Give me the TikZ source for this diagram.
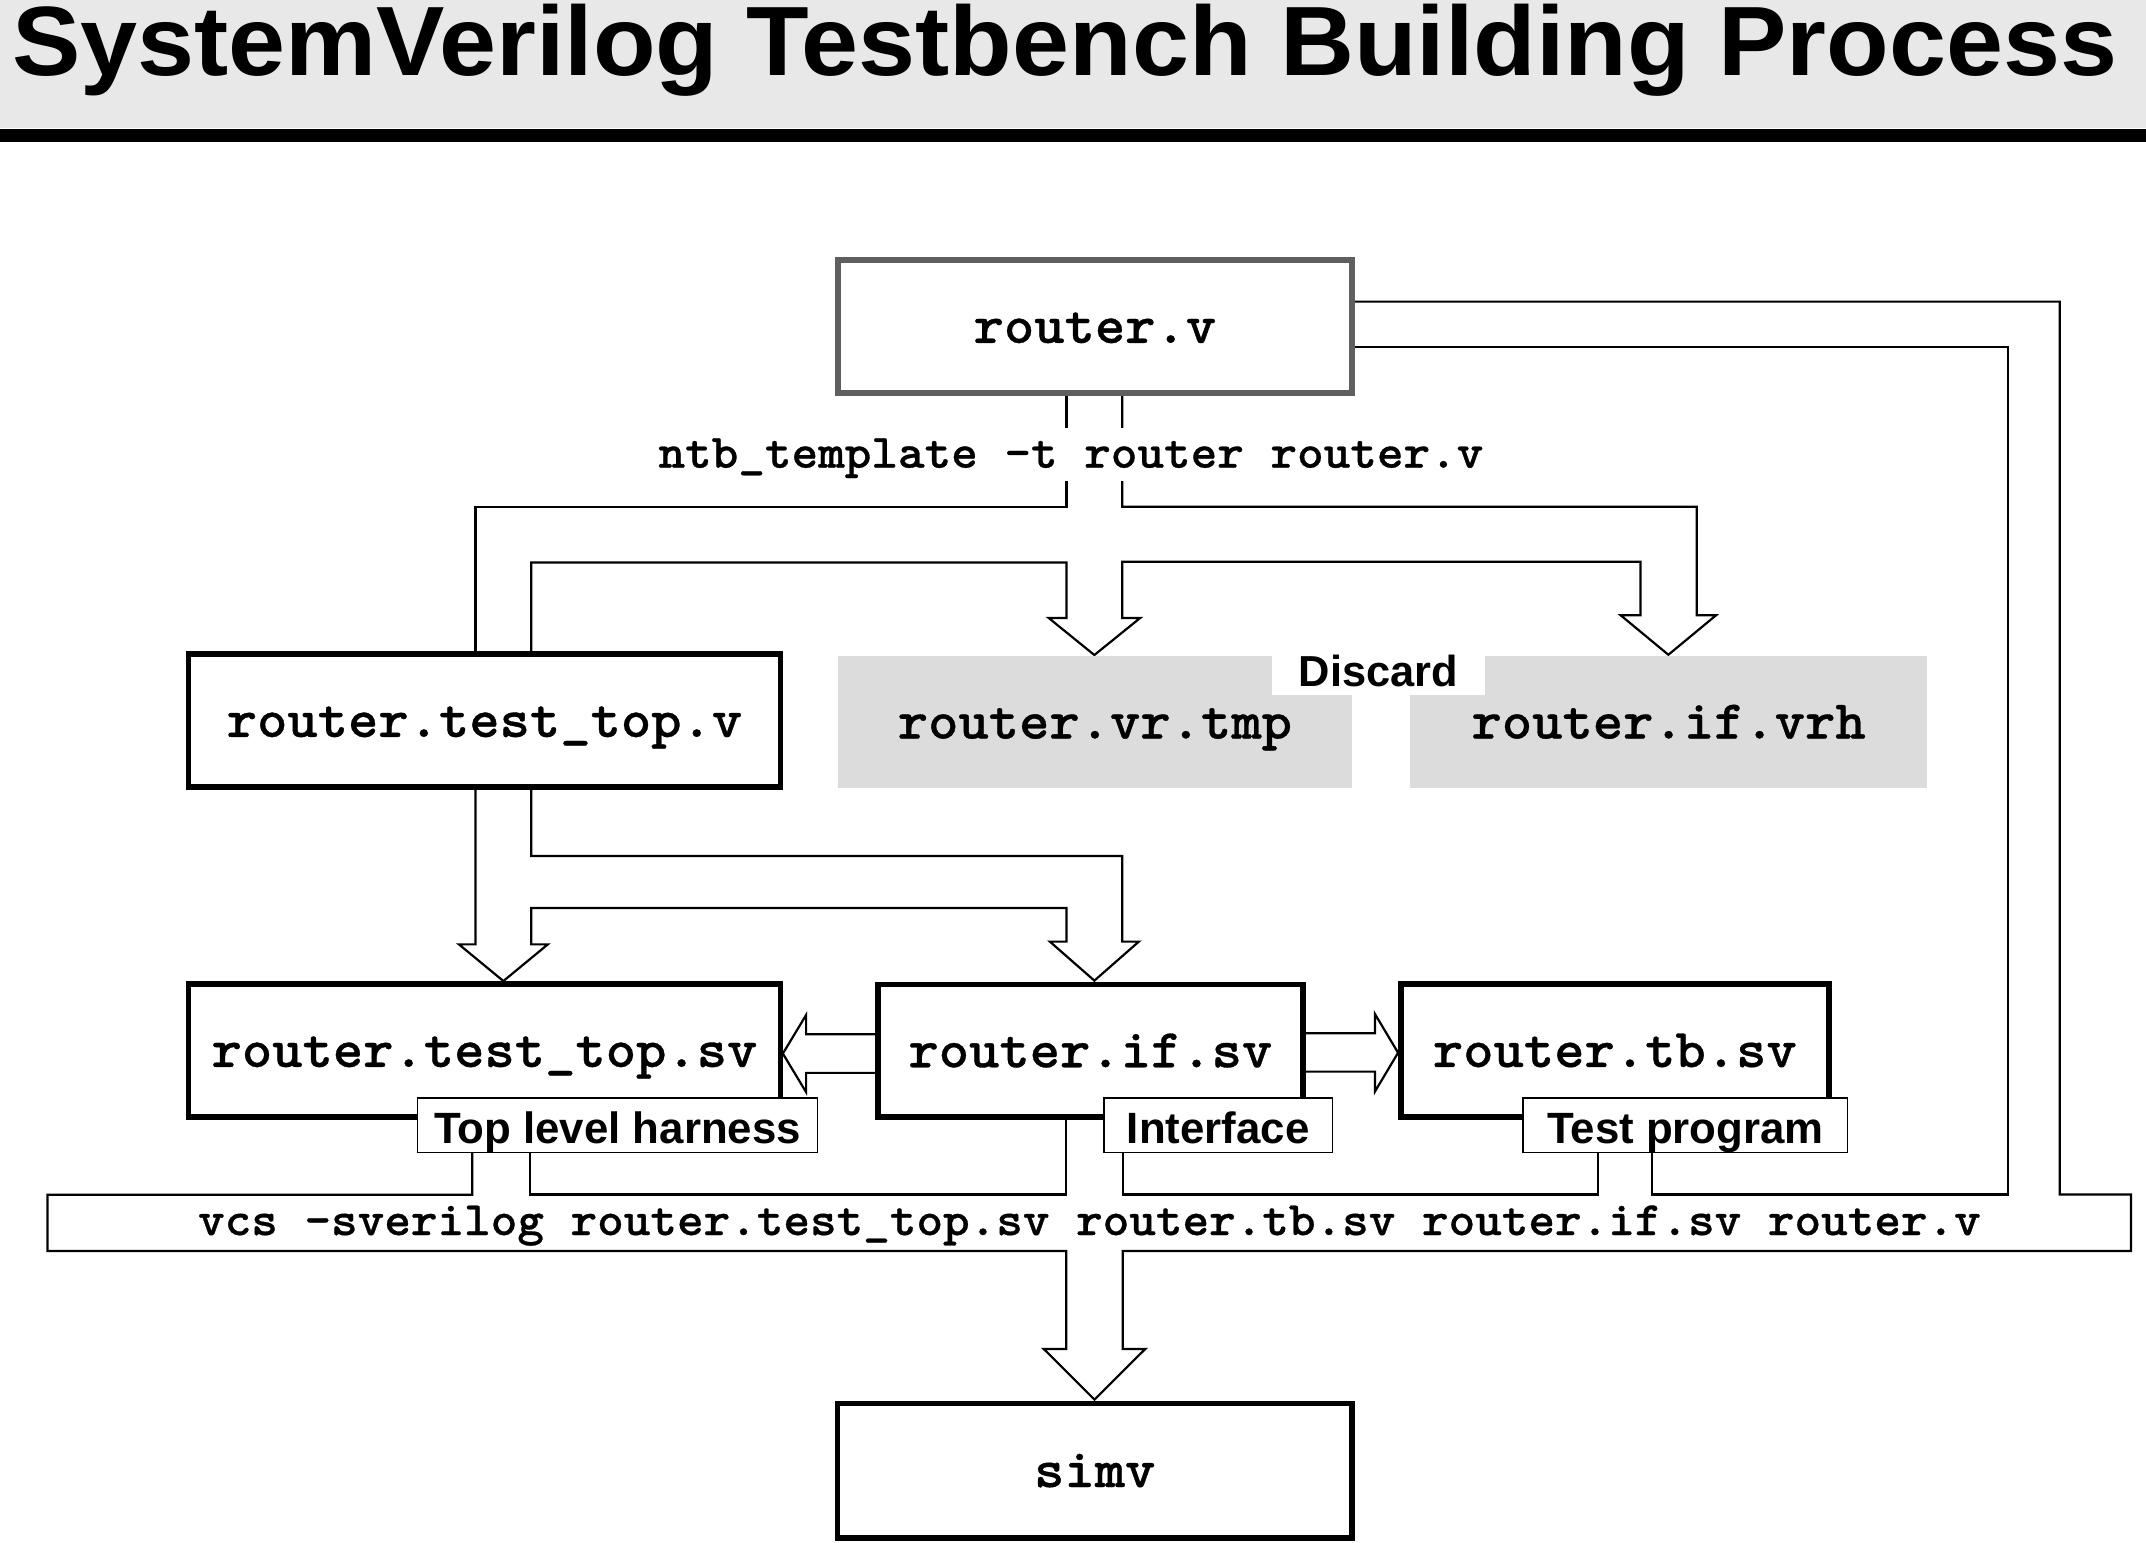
\documentclass[tikz,border=0pt]{standalone}
\usepackage{fontspec}
\setsansfont{Liberation Sans}
\newfontfamily\cour{lmmonolt10-bold.otf}[FakeStretch=1.055,FakeBold=0.6]
\newfontfamily\titlefont{Liberation Sans}[FakeStretch=1.04]
\definecolor{titlegray}{HTML}{E8E8E8}
\definecolor{srcgray}{HTML}{5F5F5F}
\definecolor{discgray}{HTML}{DCDCDC}
\begin{document}
\begin{tikzpicture}[x=1pt,y=-1pt,
  filebox/.style={draw=black, line width=4.2pt, fill=white, minimum height=97pt, inner sep=0pt,
    font=\cour\fontsize{40}{44}\selectfont, text height=24pt, text depth=0pt},
  srcbox/.style={filebox, draw=srcgray, line width=4.4pt},
  discbox/.style={filebox, draw=none, fill=discgray},
  tag/.style={draw=black, line width=1.2pt, fill=white, inner sep=0pt, minimum height=39.7pt,
    font=\sffamily\bfseries\fontsize{32}{36}\selectfont, text height=26.4pt, text depth=0pt},
  cmd/.style={fill=white, inner sep=0pt, font=\cour\fontsize{35.1}{38}\selectfont, text height=19.2pt, text depth=0pt},
  blk/.style={draw=black, line width=1.6pt, line join=miter}]
\useasboundingbox (0,0) rectangle (1568,1126.7);
% title
\fill[titlegray] (0,0) rectangle (1568,93.3);
\fill[black] (0,94.3) rectangle (1568,103.8);
\node[anchor=base, inner sep=0pt, font=\titlefont\bfseries\fontsize{72}{78}\selectfont] (title) at (777.9,55.5) {SystemVerilog Testbench Building Process};
% block arrow: ntb_template
\draw[blk] (779.3,287) -- (779.3,370.2) -- (347.4,370.2) -- (347.4,477);
\draw[blk] (388.2,477) -- (388.2,411) -- (779.3,411) -- (779.3,451.5) -- (766.2,451.5) -- (799.6,478.6)
  -- (833.1,451.5) -- (820,451.5) -- (820,410.5) -- (1198.6,410.5) -- (1198.6,449.6) -- (1184.2,449.6)
  -- (1219,478.4) -- (1253.8,449.6) -- (1239.7,449.6) -- (1239.7,370.2) -- (820,370.2) -- (820,287);
% block arrow: test_top.v -> test_top.sv, if.sv
\draw[blk] (347.4,577) -- (347.4,690) -- (335.3,690) -- (367.8,716.8) -- (400.3,690) -- (388.2,690)
  -- (388.2,663.5) -- (779.3,663.5) -- (779.3,688) -- (767.1,688) -- (799.6,716.5) -- (832.1,688)
  -- (820,688) -- (820,625.5) -- (388.2,625.5) -- (388.2,577);
% side arrows
\draw[blk] (640,755.7) -- (589,755.7) -- (589,741.6) -- (572,769.8) -- (589,798) -- (589,783.9) -- (640,783.9);
\draw[blk] (953,755) -- (1004.7,755) -- (1004.7,741) -- (1021.5,769.2) -- (1004.7,797.4) -- (1004.7,783) -- (953,783);
% block arrow: vcs bar
\draw[blk] (345,842) -- (345,873) -- (34.7,873) -- (34.7,914) -- (779,914) -- (779,985.7) -- (762.7,985.7)
  -- (799.7,1022.6) -- (836.7,985.7) -- (820.4,985.7) -- (820.4,914) -- (1557,914) -- (1557,872.8)
  -- (1505,872.8) -- (1505,220.4) -- (988,220.4);
\draw[blk] (988,253.8) -- (1467,253.8) -- (1467,872.8) -- (1207,872.8) -- (1207,842);
\draw[blk] (1167.5,842) -- (1167.5,872.8) -- (820.4,872.8) -- (820.4,842);
\draw[blk] (779,817) -- (779,872.8) -- (387.5,872.8) -- (387.5,842);
% boxes
\node[srcbox, minimum width=376pt] (rv) at (800,238.5) {router.v};
\node[filebox, minimum width=432.5pt] (ttv) at (354,526.4) {router.test\_top.v};
\node[discbox, minimum width=376pt] (vrtmp) at (800,527.6) {router.vr.tmp};
\node[discbox, minimum width=378pt] (ifvrh) at (1219.2,527.6) {router.if.vrh};
\node[fill=white, inner sep=0pt, minimum width=155.7pt, minimum height=34pt, text height=21.4pt, text depth=0pt,
  font=\sffamily\bfseries\fontsize{31.7}{36}\selectfont] (discard) at (1007.1,491) {Discard};
\node[filebox, minimum width=432.5pt] (ttsv) at (354,767.5) {router.test\_top.sv};
\node[filebox, minimum width=310.6pt] (ifsv) at (796.7,767.8) {router.if.sv};
\node[filebox, minimum width=312.5pt] (tbsv) at (1179.9,767.6) {router.tb.sv};
\node[filebox, minimum width=376pt, minimum height=98pt] (simv) at (799.9,1074.5) {simv};
% tags
\node[tag, minimum width=292.4pt] (tag1) at (451.2,822.2) {Top level harness};
\node[tag, minimum width=167.2pt] (tag2) at (890.1,822.2) {Interface};
\node[tag, minimum width=237pt] (tag3) at (1231.5,822.2) {Test program};
\draw[blk] (1207,842) -- (1207,834);
% commands
\node[cmd, minimum height=38.2pt] (ntb) at (782.5,332.1) {ntb\_template -t router router.v};
\node[cmd, anchor=base] (vcs) at (796,902.4) {vcs -sverilog router.test\_top.sv router.tb.sv router.if.sv router.v};
\end{tikzpicture}
\end{document}
